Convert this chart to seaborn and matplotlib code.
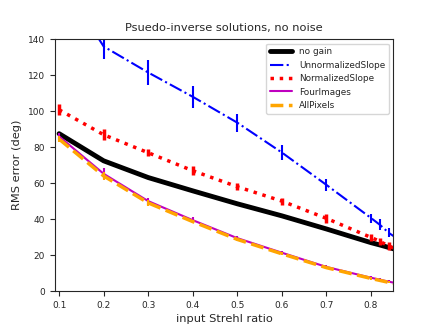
import matplotlib
matplotlib.use("Agg")
import matplotlib.pyplot as plt
import seaborn as sns

strehl = [0.1, 0.2, 0.3, 0.4, 0.5, 0.6, 0.7, 0.8, 0.82, 0.84, 0.86]
no_gain = [87.5, 72.4, 63.1, 55.7, 48.5, 41.8, 34.5, 26.9, 25.6, 24.2, 22.8]
unnorm = [175, 136, 121.5, 108, 93.6, 77, 59, 40.6, 36.8, 32.3, 29]
unnorm_err = [7, 7, 7, 6, 5, 4, 3.5, 2.5, 3, 2.5, 2.5]
norm = [100.8, 86.9, 76.9, 66.9, 58, 50, 40.4, 29.8, 27.6, 25, 23]
norm_err = [3, 3, 2, 2.5, 2, 2, 2.5, 2, 2, 2, 2]
four = [86, 65.2, 50, 39.4, 29.4, 21.3, 13.4, 7.4, 6.3, 5.2, 4.2]
four_err = [2, 3, 2, 1.5, 1, 1, 1, 0.8, 0.8, 0.8, 0.8]
allpix = [84.5, 64, 49, 38.6, 28.7, 20.7, 13, 7, 5.9, 4.8, 3.8]
allpix_err = [1.5, 2, 1.5, 1, 1, 0.8, 0.8, 0.6, 0.6, 0.6, 0.6]

sns.set_style("ticks")
plt.rcParams['font.family'] = ['DejaVu Sans']

fig, ax = plt.subplots(figsize=(4.37, 3.27), dpi=100)

sns.lineplot(x=strehl, y=no_gain, color='k', lw=3.5, label='no gain', ax=ax)
sns.lineplot(x=strehl, y=unnorm, color='b', lw=1.5, ls='-.', label='UnnormalizedSlope', ax=ax)
ax.errorbar(strehl, unnorm, yerr=unnorm_err, fmt='none', ecolor='b', elinewidth=1.5)
sns.lineplot(x=strehl, y=norm, color='r', lw=2.5, ls=':', label='NormalizedSlope', ax=ax)
ax.errorbar(strehl, norm, yerr=norm_err, fmt='none', ecolor='r', elinewidth=2.5)
sns.lineplot(x=strehl, y=four, color='m', lw=1.5, ls='-', label='FourImages', ax=ax)
ax.errorbar(strehl, four, yerr=four_err, fmt='none', ecolor='m', elinewidth=1.5)
sns.lineplot(x=strehl, y=allpix, color='orange', lw=2.5, ls='--', label='AllPixels', ax=ax)
ax.errorbar(strehl, allpix, yerr=allpix_err, fmt='none', ecolor='orange', elinewidth=1.5)

ax.set_xlim(0.09, 0.85)
ax.set_ylim(0, 140)
ax.set_xlabel('input Strehl ratio', fontsize=8.2, labelpad=3)
ax.set_ylabel('RMS error (deg)', fontsize=8.2)
ax.set_title('Psuedo-inverse solutions, no noise', fontsize=8.2)
ax.tick_params(labelsize=6.5)
ax.legend(loc='upper right', fontsize=6.4, handlelength=2.5)

plt.savefig('out.png', dpi=100)
